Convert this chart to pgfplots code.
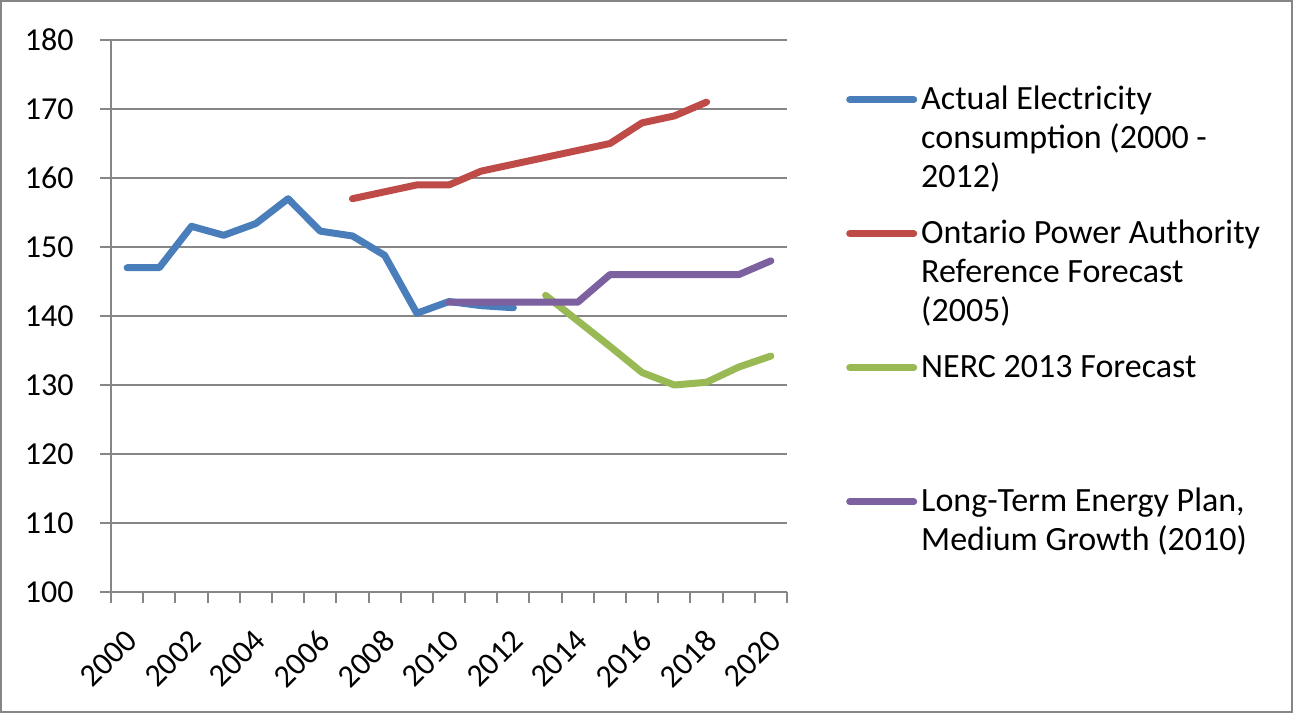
\documentclass[border=0pt]{standalone}
\usepackage{fontspec}
\setmainfont{Carlito}
\usepackage{pgfplots}
\pgfplotsset{compat=1.18}
\definecolor{axgray}{RGB}{134,134,134}
\definecolor{sblue}{RGB}{74,126,187}
\definecolor{sred}{RGB}{190,75,72}
\definecolor{sgreen}{RGB}{152,185,84}
\definecolor{spurple}{RGB}{125,96,160}
\newcommand{\tickfont}{\fontsize{16}{18}\selectfont}
\newcommand{\legfont}{\fontsize{17}{19.5}\selectfont}
\begin{document}
\begin{tikzpicture}
\useasboundingbox (0,0) rectangle (646.5pt,356.5pt);
\draw[axgray, line width=1pt] (0.5pt,0.5pt) rectangle (646pt,356pt);
\begin{axis}[
  at={(55.5pt,60.5pt)}, anchor=south west,
  scale only axis, width=338pt, height=276pt,
  xmin=-0.5, xmax=20.5, ymin=100, ymax=180,
  axis x line*=bottom, axis y line*=left,
  axis line style={draw=axgray, line width=1pt, -},
  ytick={100,110,...,180},
  ymajorgrids, grid style={axgray, line width=1pt},
  xtick={-0.5,0.5,...,20.5}, xticklabels={},
  extra x ticks={0,2,...,20},
  extra x tick labels={2000,2002,2004,2006,2008,2010,2012,2014,2016,2018,2020},
  extra x tick style={major tick length=0pt},
  tick align=outside, major tick length=5.5pt,
  tick style={axgray, line width=1pt},
  /pgf/number format/assume math mode=true,
  /pgf/number format/1000 sep={},
  ticklabel style={font=\tickfont, text=black},
  xticklabel style={xshift=3pt, yshift=-21pt, rotate=45, anchor=east, inner sep=1pt},
  yticklabel style={inner sep=2pt, xshift=-11pt},
  legend image code/.code={\draw[#1] (0pt,5pt) -- (32pt,5pt);},
  legend style={at={(1.087,0.924)}, anchor=north west, draw=none, fill=none,
    inner sep=0pt, row sep=8.5pt, column sep=2pt, cells={anchor=base west},
    nodes={inner sep=0pt, text depth={}}, font=\legfont},
  every axis plot/.append style={line width=3.5pt, line cap=round, line join=round},
]
\addplot[sblue] coordinates {
  (0,147)(1,147)(2,153)(3,151.7)(4,153.4)(5,157)(6,152.3)(7,151.6)
  (8,148.8)(9,140.4)(10,142.1)(11,141.5)(12,141.2)};
\addlegendentry{\parbox[t]{185pt}{\strut Actual Electricity\\\strut consumption (2000 -\\\strut 2012)}}
\addplot[sred] coordinates {
  (7,157)(8,158)(9,159)(10,159)(11,161)(12,162)(13,163)(14,164)
  (15,165)(16,168)(17,169)(18,171)};
\addlegendentry{\parbox[t]{185pt}{\strut Ontario Power Authority\\\strut Reference Forecast\\\strut (2005)}}
\addplot[sgreen] coordinates {
  (13,143)(14,139.3)(15,135.6)(16,131.8)(17,130)(18,130.4)(19,132.6)(20,134.2)};
\addlegendentry{\parbox[t]{185pt}{\strut NERC 2013 Forecast\\\strut\\\strut}}
\addplot[spurple] coordinates {
  (10,142)(11,142)(12,142)(13,142)(14,142)(15,146)(16,146)(17,146)
  (18,146)(19,146)(20,148)};
\addlegendentry{\parbox[t]{185pt}{\strut Long-Term Energy Plan,\\\strut Medium Growth (2010)}}
\end{axis}
\end{tikzpicture}
\end{document}
